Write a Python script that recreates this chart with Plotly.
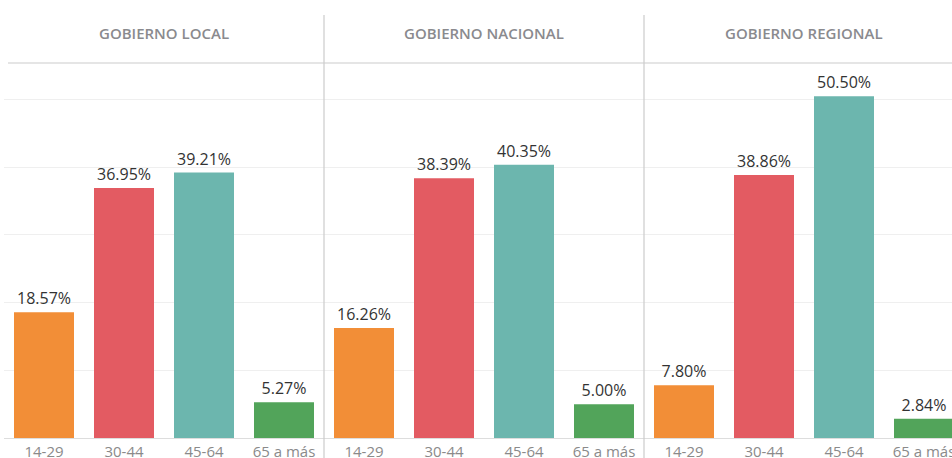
import plotly.graph_objects as go

panels = ["GOBIERNO LOCAL", "GOBIERNO NACIONAL", "GOBIERNO REGIONAL"]
age_groups = ["14-29", "30-44", "45-64", "65 a más"]
local_vals = [18.57, 36.95, 39.21, 5.27]
nacional_vals = [16.26, 38.39, 40.35, 5.00]
regional_vals = [7.80, 38.86, 50.50, 2.84]
bar_colors = ["#F28E37", "#E35B62", "#6CB6AE", "#52A45A"]

series = [local_vals, nacional_vals, regional_vals]

W, H = 952, 458
ml, mr, mt, mb = 4, 0, 63, 20
pw = W - ml - mr
ph = H - mt - mb
cat_px = 80.0

fig = go.Figure()
domains = [[0, 320 / pw], [320 / pw, 640 / pw], [640 / pw, 1.0]]
for i, vals in enumerate(series):
    ax = "" if i == 0 else str(i + 1)
    fig.add_trace(go.Bar(
        x=age_groups, y=vals,
        marker=dict(color=bar_colors, line=dict(width=0)),
        width=0.75,
        text=[f"{v:.2f}%" for v in vals],
        textposition="outside",
        textfont=dict(family="Open Sans", size=16, color="#333333"),
        cliponaxis=False,
        xaxis="x" + ax, yaxis="y" + ax,
        showlegend=False,
        hoverinfo="skip",
    ))

layout = dict(
    width=W, height=H,
    margin=dict(l=ml, r=mr, t=mt, b=mb),
    paper_bgcolor="white", plot_bgcolor="white",
    bargap=0.25,
    font=dict(family="Open Sans"),
)
for i in range(3):
    ax = "" if i == 0 else str(i + 1)
    d = domains[i]
    width_px = (d[1] - d[0]) * pw
    xr = [-0.5, -0.5 + width_px / cat_px]
    layout["xaxis" + ax] = dict(
        domain=d, range=xr, type="category", anchor="y" + ax,
        showgrid=False, zeroline=False, showline=True, linecolor="#dddddd", linewidth=1,
        tickfont=dict(family="Open Sans", size=15, color="#8a8a8a"),
        ticks="", automargin=False, fixedrange=True,
    )
    layout["yaxis" + ax] = dict(
        domain=[0, 1], range=[0, 55.4], anchor="x" + ax,
        showgrid=True, gridcolor="#efefef", gridwidth=1, dtick=10,
        zeroline=False, showticklabels=False, showline=False,
        automargin=False, fixedrange=True,
    )
fig.update_layout(**layout)

shapes = []
# header line
shapes.append(dict(type="line", xref="paper", yref="paper", x0=4 / pw, x1=1, y0=1, y1=1,
                   line=dict(color="#cccccc", width=1.2)))
# separators
for xs in [320 / pw, 640 / pw]:
    shapes.append(dict(type="line", xref="paper", yref="paper", x0=xs, x1=xs,
                       y0=-mb / ph, y1=(ph + mt - 15) / ph,
                       line=dict(color="#cccccc", width=1.2)))
fig.update_layout(shapes=shapes)

ann = []
for i, t in enumerate(panels):
    cx = (160 + 320 * i) / pw
    ann.append(dict(text=t, x=cx, y=(ph + mt - 33) / ph, xref="paper", yref="paper",
                    showarrow=False, xanchor="center", yanchor="middle",
                    font=dict(family="Open Sans", size=15, weight=600, color="#8a8a8e")))
fig.update_layout(annotations=ann)

fig.write_html("out.html", config={"displayModeBar": False},
               post_script="document.body.style.margin='0';document.body.style.overflow='hidden';")
